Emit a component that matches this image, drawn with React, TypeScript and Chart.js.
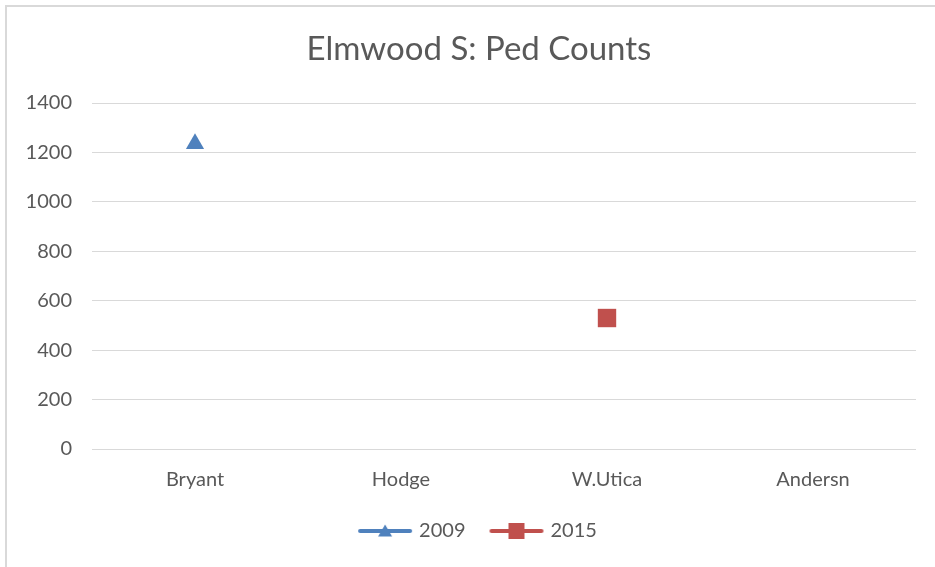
import React, { useEffect, useRef } from "react";
import { Chart, registerables } from "chart.js";

Chart.register(...registerables);

const TITLE = "Elmwood S: Ped Counts";
const CATEGORIES = ["Bryant", "Hodge", "W.Utica", "Andersn"];
const SERIES_2009 = [1235, null, null, null];
const SERIES_2015 = [null, null, 530, null];
const SERIES_NAMES = ["2009", "2015"];
const Y_MIN = 0;
const Y_MAX = 1400;
const Y_STEP = 200;

const BLUE = "#4F81BD";
const RED = "#C0504D";
const TEXT = "#595959";
const GRID = "#d9d9d9";
const FONT = "Lato, 'Noto Sans', sans-serif";

function legendImage(color: string, marker: "triangle" | "rect"): HTMLCanvasElement {
  const c = document.createElement("canvas");
  c.width = 60;
  c.height = 20;
  const ctx = c.getContext("2d")!;
  ctx.strokeStyle = color;
  ctx.lineWidth = 4;
  ctx.lineCap = "round";
  ctx.beginPath();
  ctx.moveTo(5, 10);
  ctx.lineTo(55, 10);
  ctx.stroke();
  ctx.fillStyle = color;
  if (marker === "triangle") {
    ctx.beginPath();
    ctx.moveTo(30, 3.5);
    ctx.lineTo(37, 15.5);
    ctx.lineTo(23, 15.5);
    ctx.closePath();
    ctx.fill();
  } else {
    ctx.fillRect(22, 2, 16, 16);
  }
  return c;
}

export default function App() {
  const ref = useRef<HTMLCanvasElement | null>(null);

  useEffect(() => {
    if (!ref.current) return;
    const imgs = [legendImage(BLUE, "triangle"), legendImage(RED, "rect")];
    const chart = new Chart(ref.current, {
      type: "line",
      data: {
        labels: CATEGORIES,
        datasets: [
          {
            label: SERIES_NAMES[0],
            data: SERIES_2009,
            borderColor: BLUE,
            backgroundColor: BLUE,
            borderWidth: 3.5,
            pointStyle: "triangle",
            pointRadius: 10.5,
            pointBorderWidth: 0,
            pointBackgroundColor: BLUE,
            spanGaps: false,
          },
          {
            label: SERIES_NAMES[1],
            data: SERIES_2015,
            borderColor: RED,
            backgroundColor: RED,
            borderWidth: 3.5,
            pointStyle: "rect",
            pointRadius: 13,
            pointBorderWidth: 0,
            pointBackgroundColor: RED,
            spanGaps: false,
          },
        ],
      },
      options: {
        animation: false,
        responsive: false,
        layout: { padding: { left: 0, right: 0, top: 0, bottom: 16 } },
        plugins: {
          title: {
            display: true,
            text: TITLE,
            color: TEXT,
            font: { family: FONT, size: 33, weight: "normal" },
            padding: { top: 30, bottom: 33.4 },
          },
          legend: {
            position: "bottom",
            labels: {
              usePointStyle: true,
              pointStyleWidth: 48,
              padding: 27,
              color: TEXT,
              font: { family: FONT, size: 20 },
              generateLabels: (ch: any) =>
                ch.data.datasets.map((ds: any, i: number) => ({
                  text: ds.label,
                  pointStyle: imgs[i],
                  fillStyle: ds.borderColor,
                  strokeStyle: ds.borderColor,
                  lineWidth: 0,
                  hidden: false,
                  datasetIndex: i,
                  fontColor: TEXT,
                })),
            },
          },
          tooltip: { enabled: false },
        },
        scales: {
          x: {
            grid: { display: false, drawTicks: false },
            border: { display: false },
            offset: true,
            ticks: {
              color: TEXT,
              padding: 19,
              font: { family: FONT, size: 20 },
              maxRotation: 0,
            },
            afterFit: (s: any) => {
              s.height = 45;
            },
          },
          y: {
            min: Y_MIN,
            max: Y_MAX,
            grid: { color: GRID, lineWidth: 1, drawTicks: false },
            border: { display: false },
            ticks: {
              stepSize: Y_STEP,
              color: TEXT,
              padding: 20,
              font: { family: FONT, size: 20 },
              callback: (v: any) => String(v),
            },
            afterFit: (s: any) => {
              s.width = 92;
            },
          },
          yRight: {
            position: "right",
            display: true,
            grid: { display: false, drawTicks: false },
            border: { display: false },
            ticks: { display: false },
            afterFit: (s: any) => {
              s.width = 42;
            },
          },
        },
      },
    } as any);
    return () => chart.destroy();
  }, []);

  return (
    <div
      style={{
        position: "fixed",
        left: 0,
        top: 0,
        width: 935,
        height: 567,
        overflow: "hidden",
        background: "#fff",
      }}
    >
      <div
        style={{
          position: "absolute",
          left: 5,
          top: 5,
          width: 1000,
          height: 1000,
          border: "2px solid #d9d9d9",
        }}
      />
      <canvas
        ref={ref}
        width={958}
        height={567}
        style={{ position: "absolute", left: 0, top: 0, width: 958, height: 567 }}
      />
    </div>
  );
}
